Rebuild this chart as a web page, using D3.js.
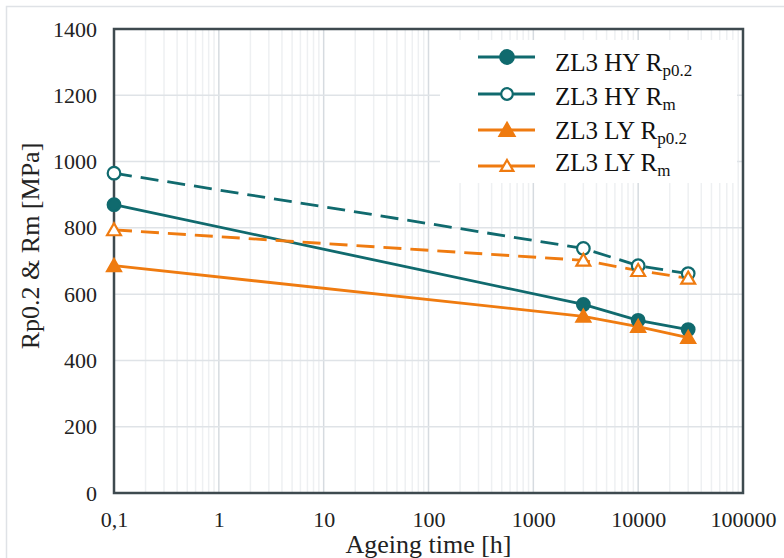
<!DOCTYPE html>
<html>
<head>
<meta charset="utf-8">
<script src="https://cdn.jsdelivr.net/npm/d3@7/dist/d3.min.js"></script>
<style>
  html, body { margin: 0; padding: 0; background: #fff; }
</style>
</head>
<body>
<svg id="chart" width="784" height="558"></svg>
<script>
// Ageing times (h) and strength values (MPa)
const ageingTimes = [0.1, 3000, 10000, 30000];
const hyRp02 = [870, 569, 521, 493];
const hyRm   = [965, 738, 686, 662];
const lyRp02 = [686, 533, 502, 469];
const lyRm   = [794, 702, 671, 648];

const xTickValues = [0.1, 1, 10, 100, 1000, 10000, 100000];
const xTickLabels = ["0,1", "1", "10", "100", "1000", "10000", "100000"];
const yTickValues = [0, 200, 400, 600, 800, 1000, 1200, 1400];

const series = [
  { name: "ZL3 HY R", sub: "p0.2", values: hyRp02, color: "#106a6e", dashed: false, marker: "circle", filled: true },
  { name: "ZL3 HY R", sub: "m",    values: hyRm,   color: "#106a6e", dashed: true,  marker: "circle", filled: false },
  { name: "ZL3 LY R", sub: "p0.2", values: lyRp02, color: "#ef7b10", dashed: false, marker: "triangle", filled: true },
  { name: "ZL3 LY R", sub: "m",    values: lyRm,   color: "#ef7b10", dashed: true,  marker: "triangle", filled: false }
];

const FONT = "'Liberation Serif', 'Times New Roman', serif";
const svg = d3.select("#chart");
const plot = { left: 114, right: 743, top: 29, bottom: 493 };

// Outer frame of the figure
svg.append("rect")
  .attr("x", 6.5).attr("y", 6.5).attr("width", 820).attr("height", 600)
  .attr("fill", "none").attr("stroke", "#dfe2e6").attr("stroke-width", 1.5);

const x = d3.scaleLog().domain([0.1, 100000]).range([plot.left, plot.right]);
const y = d3.scaleLinear().domain([0, 1400]).range([plot.bottom, plot.top]);

// Minor vertical gridlines (2..9 in every decade)
const minorTicks = [];
for (let e = -1; e < 5; e++) {
  for (let m = 2; m <= 9; m++) minorTicks.push(m * Math.pow(10, e));
}
svg.append("g")
  .selectAll("line").data(minorTicks).join("line")
  .attr("x1", d => x(d)).attr("x2", d => x(d))
  .attr("y1", plot.top).attr("y2", plot.bottom)
  .attr("stroke", "#eef0f2").attr("stroke-width", 1.5);

// Major vertical gridlines
svg.append("g")
  .selectAll("line").data(xTickValues).join("line")
  .attr("x1", d => x(d)).attr("x2", d => x(d))
  .attr("y1", plot.top).attr("y2", plot.bottom)
  .attr("stroke", "#d6dbe0").attr("stroke-width", 1.5);

// Horizontal gridlines
svg.append("g")
  .selectAll("line").data(yTickValues).join("line")
  .attr("x1", plot.left).attr("x2", plot.right)
  .attr("y1", d => y(d)).attr("y2", d => y(d))
  .attr("stroke", "#dfe3e7").attr("stroke-width", 1.5);

// Axes with tick labels only
const xAxis = d3.axisBottom(x).tickValues(xTickValues)
  .tickFormat((d, i) => xTickLabels[i]).tickSize(0).tickPadding(18);
const gx = svg.append("g").attr("transform", `translate(0,${plot.bottom})`).call(xAxis);
gx.select(".domain").remove();
gx.selectAll("text").attr("fill", "#222")
  .style("font-family", FONT).style("font-size", "22px");

const yAxis = d3.axisLeft(y).tickValues(yTickValues).tickFormat(d3.format("d"))
  .tickSize(0).tickPadding(17);
const gy = svg.append("g").attr("transform", `translate(${plot.left},0)`).call(yAxis);
gy.select(".domain").remove();
gy.selectAll("text").attr("fill", "#222")
  .style("font-family", FONT).style("font-size", "22px");

// Plot frame
svg.append("rect")
  .attr("x", plot.left).attr("y", plot.top)
  .attr("width", plot.right - plot.left).attr("height", plot.bottom - plot.top)
  .attr("fill", "none").attr("stroke", "#3e4a4f").attr("stroke-width", 2.5);

// Axis titles
svg.append("text")
  .attr("x", (plot.left + plot.right) / 2).attr("y", 553)
  .attr("text-anchor", "middle").attr("fill", "#222")
  .style("font-family", FONT).style("font-size", "26px")
  .text("Ageing time [h]");

svg.append("text")
  .attr("transform", "translate(39,246) rotate(-90)")
  .attr("text-anchor", "middle").attr("fill", "#222")
  .style("font-family", FONT).style("font-size", "26px")
  .text("Rp0.2 & Rm [MPa]");

// Marker drawing helper
function drawMarker(g, s, cx, cy, size) {
  if (s.marker === "circle") {
    g.append("circle").attr("cx", cx).attr("cy", cy).attr("r", size)
      .attr("fill", s.filled ? s.color : "#fff")
      .attr("stroke", s.color).attr("stroke-width", 2.2);
  } else {
    const h = size * 1.9;
    const w = size * 2.2;
    const pts = [[cx, cy - h * 0.55], [cx + w / 2, cy + h * 0.45], [cx - w / 2, cy + h * 0.45]];
    g.append("polygon").attr("points", pts.map(p => p.join(",")).join(" "))
      .attr("fill", s.filled ? s.color : "#fff")
      .attr("stroke", s.color).attr("stroke-width", 2.2).attr("stroke-linejoin", "miter");
  }
}

// Series lines and markers
const line = d3.line().x(d => x(d[0])).y(d => y(d[1]));
const gSeries = svg.append("g");
series.forEach(s => {
  const pts = ageingTimes.map((t, i) => [t, s.values[i]]);
  gSeries.append("path").datum(pts)
    .attr("d", line).attr("fill", "none")
    .attr("stroke", s.color).attr("stroke-width", 2.8)
    .attr("stroke-dasharray", s.dashed ? "18,9" : null);
});
series.forEach(s => {
  const g = gSeries.append("g");
  ageingTimes.forEach((t, i) => drawMarker(g, s, x(t), y(s.values[i]), 6.3));
});

// Legend
const legend = svg.append("g");
legend.append("rect")
  .attr("x", 440).attr("y", 40).attr("width", 297).attr("height", 143)
  .attr("fill", "#fff");
const rowY = [57, 94, 130, 166];
const textY = [71, 105, 139, 171];
series.forEach((s, i) => {
  const g = legend.append("g");
  const ly = rowY[i];
  g.append("line").attr("x1", 478).attr("x2", 535).attr("y1", ly).attr("y2", ly)
    .attr("stroke", s.color).attr("stroke-width", 2.8);
  drawMarker(g, s, 507, ly, s.filled ? 6.8 : 5.8);
  const t = g.append("text").attr("x", 555).attr("y", textY[i]).attr("fill", "#111")
    .style("font-family", FONT).style("font-size", "25px");
  t.append("tspan").text(s.name);
  t.append("tspan").attr("dy", 5).style("font-size", "17px").text(s.sub);
});
</script>
</body>
</html>
